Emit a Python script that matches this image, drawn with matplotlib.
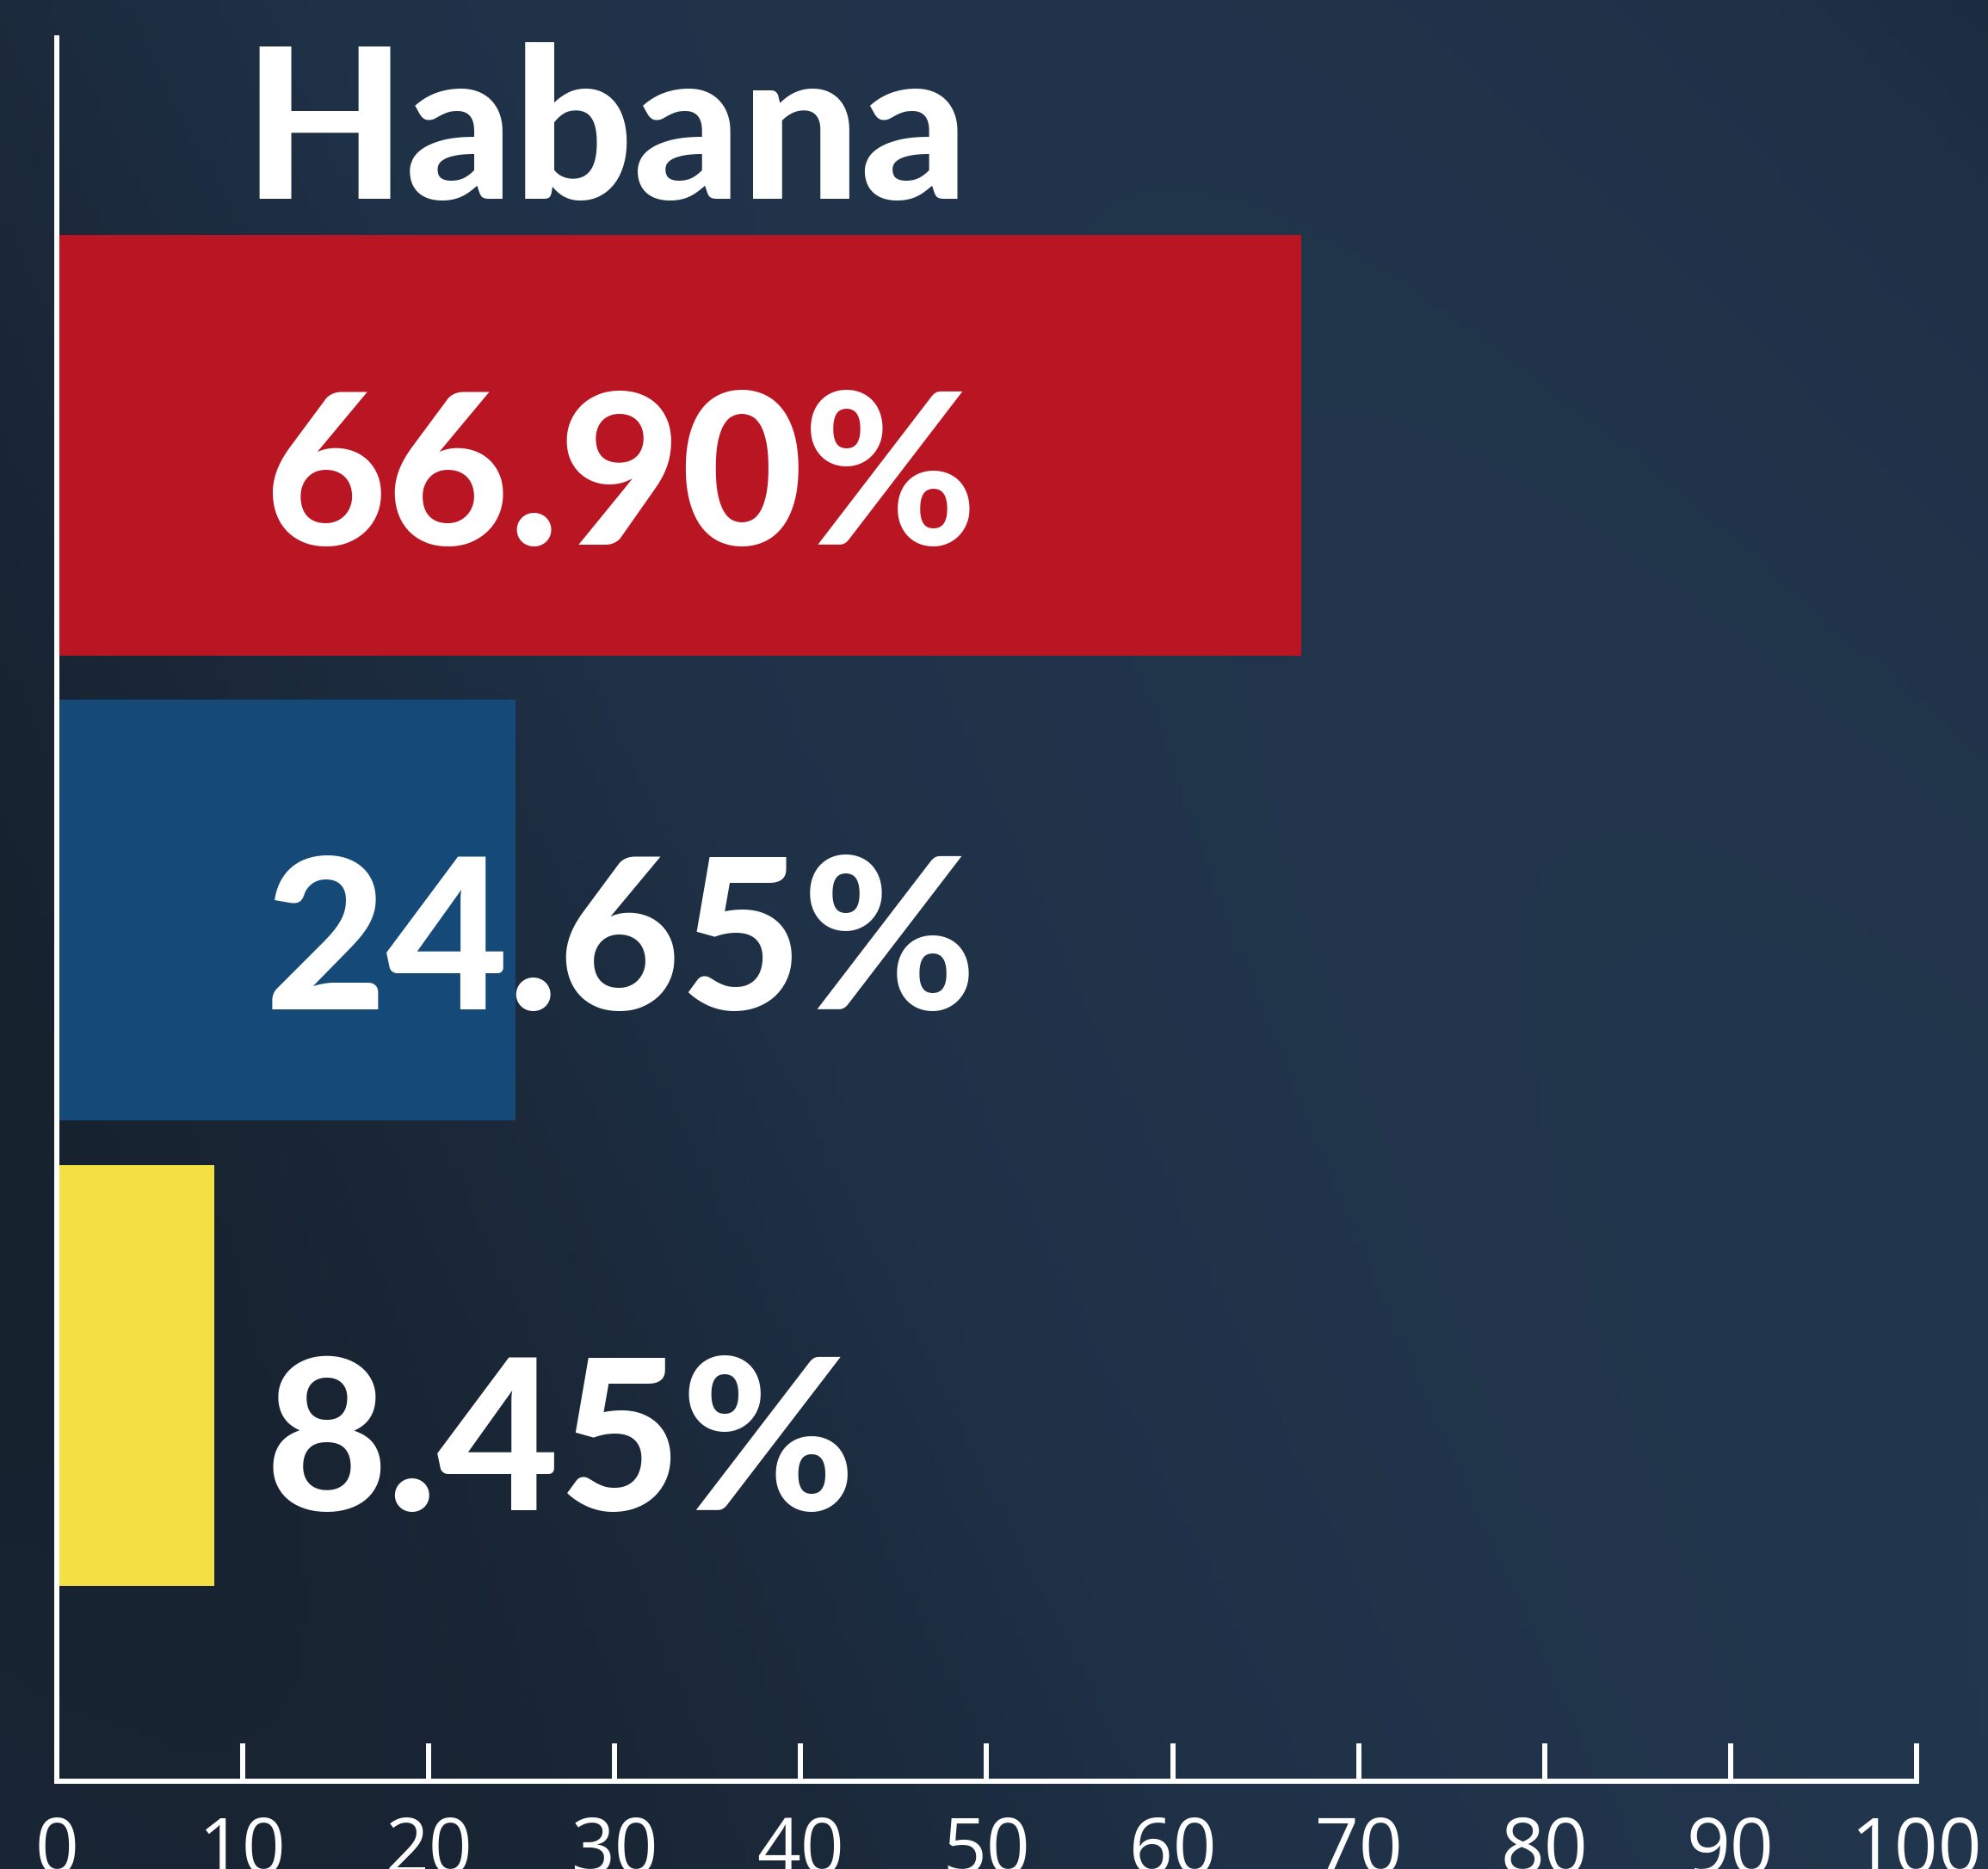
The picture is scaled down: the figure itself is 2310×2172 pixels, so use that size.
import matplotlib
matplotlib.use("Agg")
import matplotlib.pyplot as plt
import numpy as np

# data
title = "Habana"
values = [8.45, 24.65, 66.90]          # bottom to top
labels = ["8.45%", "24.65%", "66.90%"]
colors = ["#F2E045", "#154A78", "#BA1522"]
xticks = [0, 10, 20, 30, 40, 50, 60, 70, 80, 90, 100]

W, H = 2310, 2172
fig = plt.figure(figsize=(W / 100, H / 100), dpi=100)
fig.patch.set_facecolor("#1c2a3b")

# dark background with a soft gradient
bg = fig.add_axes([0, 0, 1, 1])
gy, gx = np.mgrid[0:1:200j, 0:1:200j]
grad = 0.5 + 0.25 * np.sin(3.0 * gx - 2.0 * gy) + 0.15 * gy
bg.imshow(grad, cmap=matplotlib.colors.LinearSegmentedColormap.from_list(
    "bgc", ["#17222f", "#1f3147", "#22364d"]), aspect="auto", extent=[0, 1, 0, 1])
bg.axis("off")

ax = fig.add_axes([0.0286, 0.047, 0.964 - 0.0286, 0.9797 - 0.047])
ax.patch.set_alpha(0)
ypos = list(range(len(values)))
ax.barh(ypos, values, height=0.905, color=colors, zorder=2)
ax.set_xlim(0, 100)
ax.set_ylim(-0.872, 2.875)

for s in ["top", "right"]:
    ax.spines[s].set_visible(False)
for s in ["left", "bottom"]:
    ax.spines[s].set_color("white")
    ax.spines[s].set_linewidth(4.3)
    ax.spines[s].set_zorder(3)

ax.set_yticks([])
ax.set_xticks(xticks)
ax.set_xticklabels([str(t) for t in xticks])
ax.tick_params(axis="x", direction="in", length=32, width=4.3, color="white",
               labelcolor="white", labelsize=64, pad=28)
for lab in ax.get_xticklabels():
    lab.set_family(["Open Sans", "DejaVu Sans"])
    lab.set_fontweight("normal")

# title and value labels
bold = ["Lato", "DejaVu Sans"]
ax.text(10.0, 2.53, title, color="white", fontsize=176, fontweight="black",
        family=bold, va="baseline", ha="left", zorder=4)
label_y = [-0.29, 0.787, 1.785]
for y, t in zip(label_y, labels):
    ax.text(11.2, y, t, color="white", fontsize=176, fontweight="black",
            family=bold, va="baseline", ha="left", zorder=4)

fig.savefig("out.png", dpi=100, facecolor=fig.get_facecolor())
